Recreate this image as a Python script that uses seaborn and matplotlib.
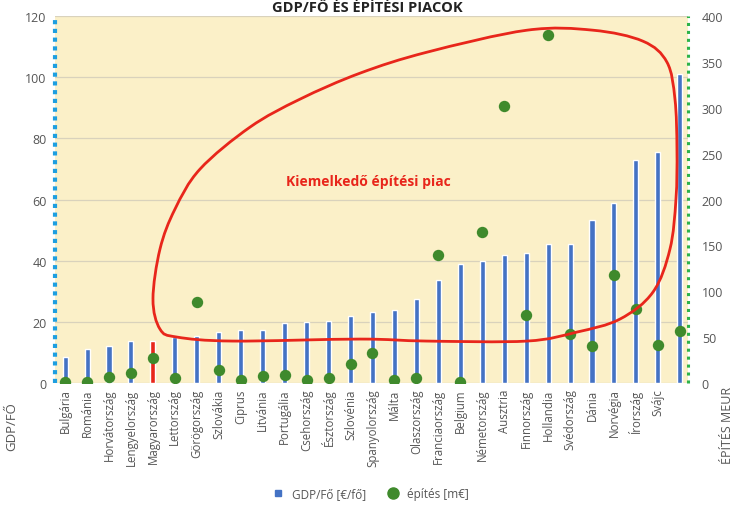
"""
GDP/fő és építési piac – EU országok összehasonlítása.
Oszlop: GDP/fő (bal tengely), pont: építési piac m€ (jobb tengely).
"""

import numpy as np
import pandas as pd
import matplotlib
matplotlib.use("Agg")
import matplotlib.pyplot as plt
from matplotlib.path import Path
from matplotlib.patches import PathPatch
from matplotlib.lines import Line2D
import seaborn as sns

# ── Data ───────────────────────────────────────────────────────────────────────
COUNTRIES = ["Bulgária", "Románia", "Horvátország", "Lengyelország", "Magyarország",
             "Lettország", "Görögország", "Szlovákia", "Ciprus", "Litvánia",
             "Portugália", "Csehország", "Észtország", "Szlovénia", "Spanyolország",
             "Málta", "Olaszország", "Franciaország", "Belgium", "Németország",
             "Ausztria", "Finnország", "Hollandia", "Svédország", "Dánia",
             "Norvégia", "Írország", "Svájc", " "]
GDP_PER_HEAD = [8.5, 11.0, 12.1, 13.6, 13.9, 15.1, 15.4, 16.7, 17.3, 17.5,
                19.5, 19.9, 20.2, 22.0, 23.4, 23.9, 27.4, 33.6, 38.8, 39.9,
                41.8, 42.6, 45.4, 45.6, 53.2, 58.9, 73.0, 75.6, 101.1]
EPITES = [1, 1, 7, 11, 27, 6, 88, 14, 3, 8,
          9, 3, 5, 21, 33, 3, 5, 140, 1, 165,
          302, 74, 379, 54, 40, 118, 81, 41, 57]
HIGHLIGHT = "Magyarország"

TITLE = "GDP/FŐ ÉS ÉPÍTÉSI PIACOK"
Y_LEFT_TICKS = [0, 20, 40, 60, 80, 100, 120]
Y_RIGHT_TICKS = [0, 50, 100, 150, 200, 250, 300, 350, 400]

BLUE = "#4472C4"
RED = "#E8261B"
GREEN = "#3F8A2C"
BG = "#FBF0C8"
TXT = "#555555"

df = pd.DataFrame({"orszag": COUNTRIES, "gdp": GDP_PER_HEAD, "epites": EPITES})
palette = {c: (RED if c == HIGHLIGHT else BLUE) for c in COUNTRIES}

# ── Figure ─────────────────────────────────────────────────────────────────────
sns.set_style("white")
plt.rcParams["font.family"] = ["Open Sans", "DejaVu Sans"]

fig = plt.figure(figsize=(7.35, 5.06), dpi=100)
ax = fig.add_axes([0.0748, 0.241, 0.8612, 0.725])
ax.set_facecolor(BG)

sns.barplot(data=df, x="orszag", y="gdp", hue="orszag", palette=palette,
            width=0.23, legend=False, ax=ax, zorder=2, saturation=1)
ax.set_ylim(0, 120)
ax.set_yticks(Y_LEFT_TICKS)
ax.yaxis.grid(True, color="#D9D2BC", lw=0.9, zorder=0)
ax.set_axisbelow(True)
ax.set_xlim(-0.46, 28.37)

ax2 = ax.twinx()
sns.stripplot(data=df, x="orszag", y="epites", color=GREEN, jitter=False,
              size=8.2, ax=ax2, zorder=3, linewidth=0)
ax2.set_ylim(0, 400)
ax2.set_yticks(Y_RIGHT_TICKS)
ax2.set_xlim(-0.46, 28.37)

# spines: dotted coloured axes
for a in (ax, ax2):
    for s in a.spines.values():
        s.set_visible(False)
sl = ax.spines["left"]
sl.set_visible(True)
sl.set_color("#1E9FE0")
sl.set_linewidth(3)
sl.set_linestyle((0, (1, 1.1)))
sl.set_capstyle("butt")
sr = ax2.spines["right"]
sr.set_visible(True)
sr.set_color("#2DB34A")
sr.set_linewidth(2.2)
sr.set_linestyle((0, (1, 1.6)))
sr.set_capstyle("butt")

ax.tick_params(axis="y", length=0, labelsize=9, labelcolor=TXT, pad=6)
ax2.tick_params(axis="y", length=0, labelsize=9, labelcolor=TXT, pad=10)
ax.tick_params(axis="x", length=0, labelsize=8.3, labelcolor=TXT, rotation=90, pad=4)
ax2.tick_params(axis="x", length=0, labelbottom=False)
ax.set_xlabel("")
ax2.set_xlabel("")
ax2.set_ylabel("")
ax.set_ylabel("GDP/FŐ", fontsize=9.5, color=TXT)
ax.yaxis.set_label_coords(-0.058, -0.115)
fig.text(0.99, 0.16, "ÉPÍTÉS MEUR", rotation=90, fontsize=9, color=TXT,
         ha="center", va="center")

# ── Red loop annotation (axes fraction) ────────────────────────────────────────
loop_px = [(153, 300), (160, 250), (175, 210), (200, 170), (250, 128), (300, 100),
           (360, 74), (427, 53), (527, 31), (593, 31), (643, 42), (667, 63),
           (675, 100), (677, 150), (676, 200), (670, 250), (653, 293), (620, 320),
           (577, 333), (527, 342), (427, 342), (360, 340), (233, 342), (177, 338),
           (160, 330)]
pts = np.array([((px - 55) / 633, (384 - py) / 367) for px, py in loop_px])
n = len(pts)
verts, codes = [pts[0]], [Path.MOVETO]
for i in range(n):
    p0, p1, p2, p3 = pts[i - 1], pts[i], pts[(i + 1) % n], pts[(i + 2) % n]
    verts += [p1 + (p2 - p0) / 6, p2 - (p3 - p1) / 6, p2]
    codes += [Path.CURVE4] * 3
ax2.add_patch(PathPatch(Path(verts, codes), transform=ax2.transAxes,
                        fill=False, edgecolor="#E8261B", lw=2.0, zorder=5,
                        clip_on=False))
ax2.text(0.495, 0.55, "Kiemelkedő építési piac", transform=ax2.transAxes,
         color="#E8261B", fontsize=10, fontweight="bold", ha="center", va="center")

# ── Title ──────────────────────────────────────────────────────────────────────
fig.text(0.5, 0.999, TITLE, ha="center", va="top", fontsize=10.5,
         fontweight="bold", color="#222222")

# ── Legend ─────────────────────────────────────────────────────────────────────
handles = [Line2D([], [], marker="s", ls="none", color=BLUE, markersize=5),
           Line2D([], [], marker="o", ls="none", color=GREEN, markersize=8)]
fig.legend(handles, ["GDP/Fő [€/fő]", "építés [m€]"], loc="center",
           bbox_to_anchor=(0.5, 0.022), ncol=2, frameon=False, fontsize=8.5,
           labelcolor=TXT, handletextpad=0.2, columnspacing=1.2)

plt.savefig("out.png", dpi=100)
